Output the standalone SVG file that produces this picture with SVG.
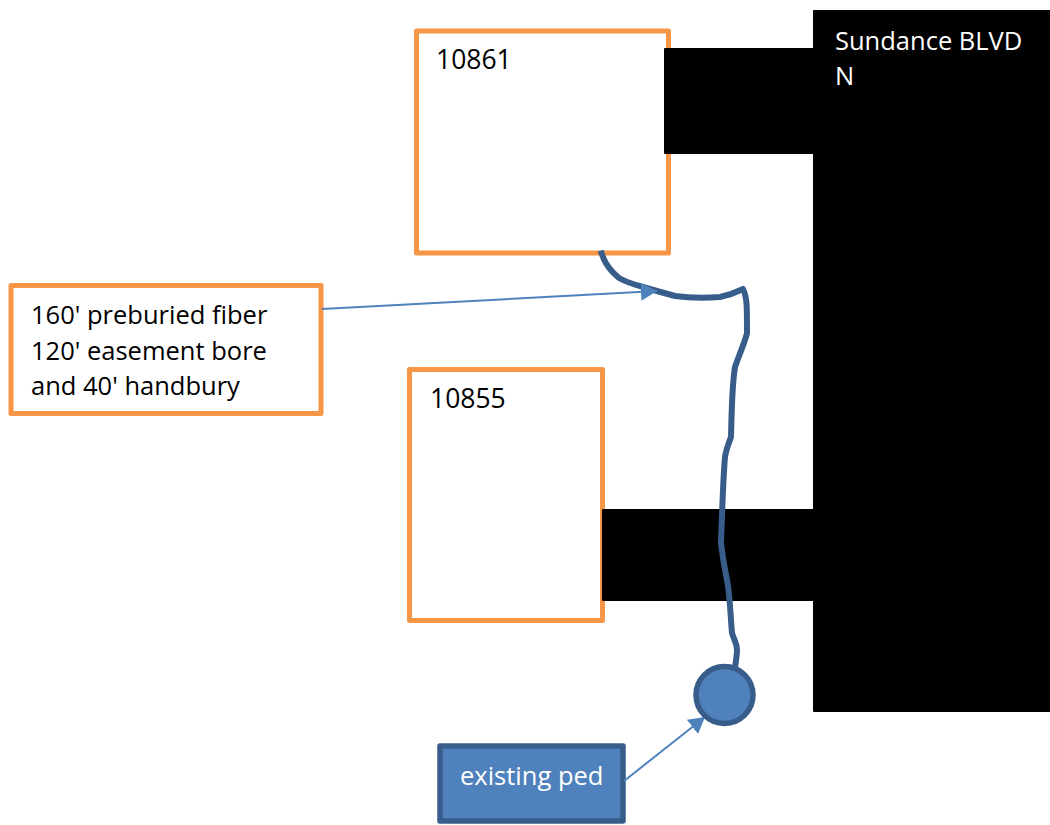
<svg xmlns="http://www.w3.org/2000/svg" width="1050" height="825" viewBox="0 0 1050 825">
<style>
text{font-family:"Open Sans","Noto Sans","Liberation Sans",sans-serif;font-size:25.500px;fill:#000}
.num{font-size:26.500px}
.box{fill:#fff;stroke:#f79646;stroke-width:5;stroke-linejoin:round}
.blk{fill:#000;stroke:#000;stroke-width:2;stroke-linejoin:round}
.w{fill:#fff}
.thin{fill:none;stroke:#4f81bd;stroke-width:2}
.cable{fill:none;stroke:#385d8a;stroke-width:6;stroke-linecap:butt;stroke-linejoin:round}
.ped{fill:#4f81bd;stroke:#385d8a;stroke-width:5.500;stroke-linejoin:round}
</style>
<defs><marker id="a" markerUnits="userSpaceOnUse" markerWidth="18" markerHeight="18" refX="16" refY="9" orient="auto"><path d="M0 0L16 9L0 18Z" fill="#4f81bd"/></marker></defs>
<rect width="1050" height="825" fill="#fff"/>
<g id="n10861"><rect class="box" x="416.500" y="31" width="252" height="222"/><text class="num" x="436" y="69">10861</text></g>
<g id="n10855"><rect class="box" x="409.500" y="369.500" width="193" height="251"/><text class="num" x="430" y="408">10855</text></g>
<g id="road"><rect class="blk" x="814" y="11" width="240" height="700"/><rect class="blk" x="665" y="49" width="151" height="104"/><rect class="blk" x="603" y="510" width="213" height="90"/><text class="w" x="835" y="50">Sundance BLVD</text><text class="w" x="835" y="85">N</text></g>
<g id="note"><rect class="box" x="11" y="285.500" width="310" height="128"/><text x="31" y="324">160' preburied fiber</text><text x="31" y="360">120' easement bore</text><text x="31" y="395">and 40' handbury</text></g>
<g id="existing-ped"><rect class="ped" x="440" y="746" width="183" height="75"/><text class="w" x="460" y="785">existing ped</text></g>
<g id="connectors">
<path class="cable" d="M600.700 250.700C603 258 606 267 619 278C628 283 636 285 643 287L657 291L675 296C690 298 705 298 720 297C730 295 737 292 743 289C747 297 747 305 747 333C745 342 741 350 735 367C732 385 732 400 731 437C728 445 726 450 725 457C723 480 723 490 721 543C723 560 725 570 727 580C730 595 730 610 732 633C734 640 737 643 737 650C737 655 736 660 735 668"/>
<path class="thin" marker-end="url(#a)" d="M322 309L657 291"/>
<path class="thin" marker-end="url(#a)" d="M624 781L705 717"/>
</g>
<g id="ped-circle"><circle class="ped" cx="724.500" cy="695" r="28.500"/></g>
</svg>
